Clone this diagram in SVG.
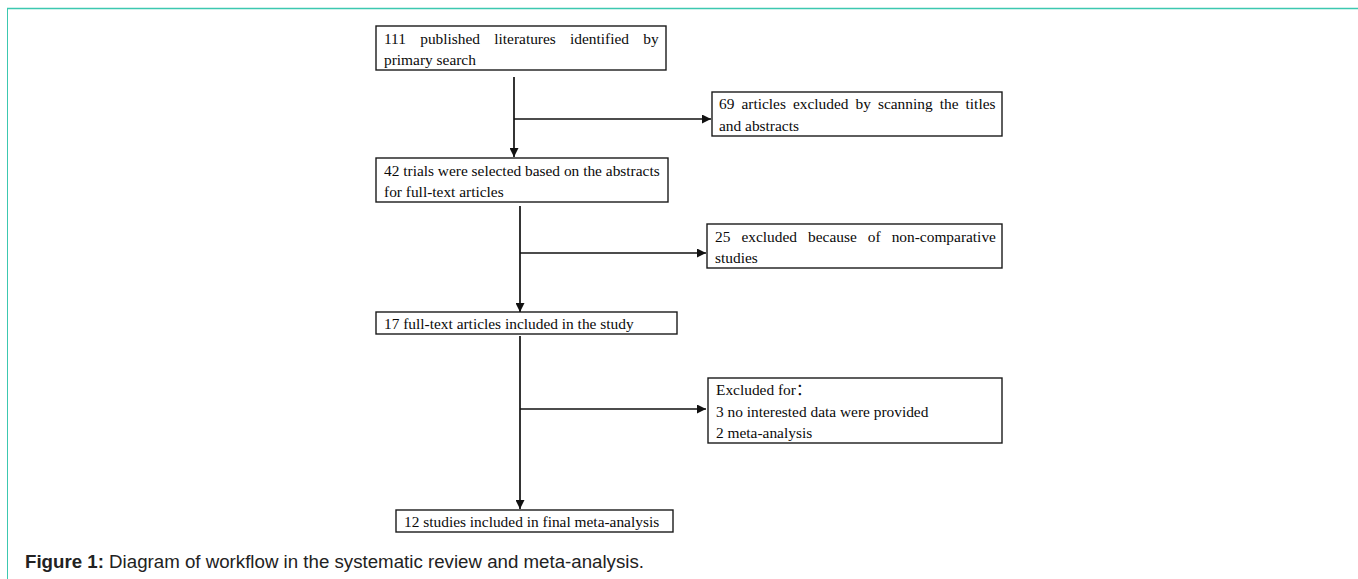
<svg xmlns="http://www.w3.org/2000/svg" width="1358" height="579" viewBox="0 0 1358 579">
<style>
.box{fill:#fff;stroke:#1a1a1a;stroke-width:1.4}
.t{font-family:"Liberation Serif","Times New Roman","Noto Sans CJK SC",serif;font-size:15.4px;fill:#0a0a0a}
.c{stroke:#111;stroke-width:1.7;fill:none}
.cap{font-family:"Liberation Sans",Arial,sans-serif;font-size:18.7px;fill:#222}
</style>
<defs>
<marker id="ah" viewBox="0 0 10 10" refX="10" refY="5" markerWidth="10" markerHeight="9" markerUnits="userSpaceOnUse" orient="auto">
<path d="M0,0 L10,5 L0,10 z" fill="#111"/>
</marker>
</defs>
<rect width="1358" height="579" fill="#fff"/>
<g id="frame">
<line x1="7" y1="8.5" x2="1358" y2="8.5" stroke="#3cc8b0" stroke-width="1.5"/>
<line x1="7.5" y1="8" x2="7.5" y2="579" stroke="#3cc8b0" stroke-width="1"/>
</g>
<g id="connectors">
<line class="c" x1="514" y1="77" x2="514" y2="157" marker-end="url(#ah)"/>
<line class="c" x1="514" y1="119" x2="711" y2="119" marker-end="url(#ah)"/>
<line class="c" x1="520" y1="206" x2="520" y2="312" marker-end="url(#ah)"/>
<line class="c" x1="520" y1="253" x2="706" y2="253" marker-end="url(#ah)"/>
<line class="c" x1="520" y1="336" x2="520" y2="509" marker-end="url(#ah)"/>
<line class="c" x1="520" y1="409" x2="706" y2="409" marker-end="url(#ah)"/>
</g>
<g id="n1">
<rect class="box" x="376" y="26" width="290" height="44"/>
<text class="t" x="384" y="44" word-spacing="10.4">111 published literatures identified by</text>
<text class="t" x="384" y="65">primary search</text>
</g>
<g id="n2">
<rect class="box" x="712" y="92" width="290" height="44"/>
<text class="t" x="719" y="109" word-spacing="3.2">69 articles excluded by scanning the titles</text>
<text class="t" x="719" y="131">and abstracts</text>
</g>
<g id="n3">
<rect class="box" x="376" y="158" width="292" height="44"/>
<text class="t" x="384" y="176">42 trials were selected based on the abstracts</text>
<text class="t" x="384" y="197">for full-text articles</text>
</g>
<g id="n4">
<rect class="box" x="707" y="224" width="295" height="44"/>
<text class="t" x="715" y="242" word-spacing="7.2">25 excluded because of non-comparative</text>
<text class="t" x="715" y="263">studies</text>
</g>
<g id="n5">
<rect class="box" x="376" y="312" width="301" height="22"/>
<text class="t" x="384" y="329">17 full-text articles included in the study</text>
</g>
<g id="n6">
<rect class="box" x="708" y="378" width="294" height="65"/>
<text class="t" x="716" y="395">Excluded for：</text>
<text class="t" x="716" y="417">3 no interested data were provided</text>
<text class="t" x="716" y="438">2 meta-analysis</text>
</g>
<g id="n7">
<rect class="box" x="396" y="510" width="277" height="22"/>
<text class="t" x="404" y="527">12 studies included in final meta-analysis</text>
</g>
<text class="cap" x="25" y="568"><tspan font-weight="bold">Figure 1:</tspan> Diagram of workflow in the systematic review and meta-analysis.</text>
</svg>
